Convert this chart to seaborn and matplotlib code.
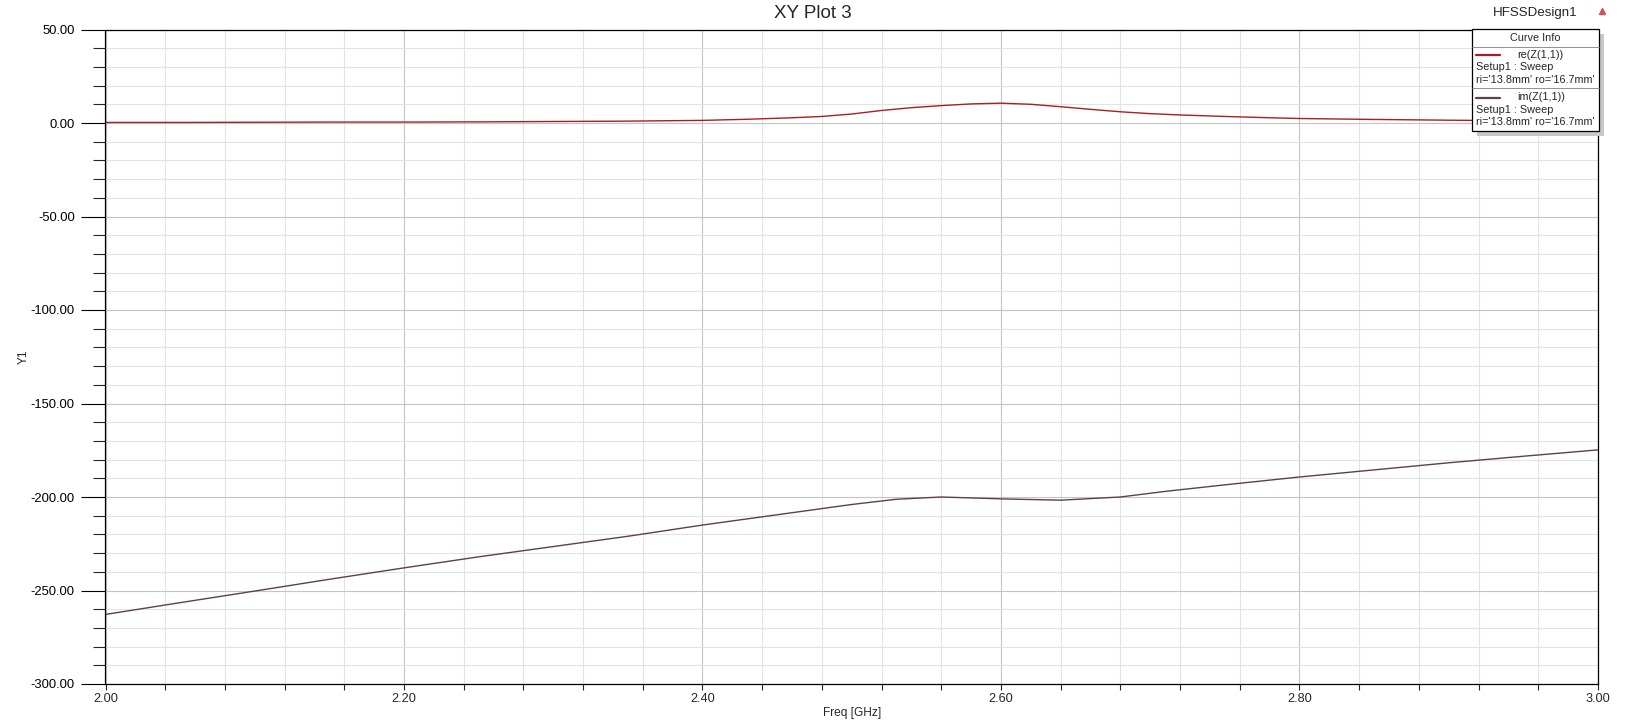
import numpy as np
import pandas as pd
import matplotlib
matplotlib.use("Agg")
import matplotlib.pyplot as plt
import seaborn as sns
from matplotlib.patches import Rectangle
from matplotlib.lines import Line2D

# ---- data ----
freq_re = [2.00, 2.05, 2.10, 2.15, 2.20, 2.25, 2.30, 2.35, 2.40, 2.43, 2.46, 2.48,
           2.50, 2.52, 2.54, 2.56, 2.58, 2.60, 2.62, 2.64, 2.66, 2.68, 2.70, 2.72,
           2.75, 2.78, 2.80, 2.85, 2.90, 2.95, 3.00]
re_z11 = [0.3, 0.3, 0.4, 0.5, 0.5, 0.6, 0.8, 1.0, 1.4, 2.0, 2.8, 3.5,
          4.8, 6.7, 8.2, 9.3, 10.2, 10.6, 10.0, 8.7, 7.3, 6.0, 5.0, 4.3,
          3.5, 2.8, 2.4, 1.9, 1.5, 1.2, 1.0]

freq_im = [2.00, 2.05, 2.10, 2.15, 2.20, 2.25, 2.30, 2.35, 2.40, 2.45, 2.50, 2.53,
           2.56, 2.60, 2.64, 2.68, 2.71, 2.75, 2.80, 2.85, 2.90, 2.95, 3.00]
im_z11 = [-262.8, -256.5, -250.3, -244.0, -237.9, -232.0, -226.5, -221.0, -215.0,
          -209.5, -204.0, -201.2, -200.0, -201.0, -201.7, -200.0, -197.0, -193.5,
          -189.3, -185.5, -181.7, -178.2, -174.8]

x_major = [2.00, 2.20, 2.40, 2.60, 2.80, 3.00]
y_major = [-300, -250, -200, -150, -100, -50, 0, 50]

title = "XY Plot 3"
design = "HFSSDesign1"
x_label = "Freq [GHz]"
y_label = "Y1"
legend_names = ["re(Z(1,1))", "im(Z(1,1))"]
legend_sub1 = "Setup1 : Sweep"
legend_sub2 = "ri='13.8mm' ro='16.7mm'"

RE_COLOR = "#a81e22"
IM_COLOR = "#5e3e52"

sns.set_style("white")
plt.rcParams["font.family"] = ["Liberation Sans", "DejaVu Sans"]

W, H = 1625, 726
fig = plt.figure(figsize=(W / 100, H / 100), dpi=100)
fx = lambda p: p / W
fy = lambda p: 1 - p / H

ax = fig.add_axes([fx(105.5), fy(684), fx(1598) - fx(105.5), fy(29.5) - fy(684)])

df_re = pd.DataFrame({"freq": freq_re, "val": re_z11})
df_im = pd.DataFrame({"freq": freq_im, "val": im_z11})
sns.lineplot(data=df_re, x="freq", y="val", ax=ax, color=RE_COLOR, linewidth=1.0)
sns.lineplot(data=df_im, x="freq", y="val", ax=ax, color=IM_COLOR, linewidth=1.0)

ax.set_xlim(2.0, 3.0)
ax.set_ylim(-300, 50)
ax.set_xticks(x_major)
ax.set_xticklabels([f"{v:.2f}" for v in x_major])
ax.set_xticks(np.arange(2.0, 3.0001, 0.04), minor=True)
ax.set_yticks(y_major)
ax.set_yticklabels([f"{v:.2f}" for v in y_major])
ax.set_yticks(np.arange(-300, 50.1, 10), minor=True)

ax.tick_params(axis="y", which="major", direction="out", length=17.3, width=0.8,
               pad=4.8, labelsize=9.4, left=True, colors="black")
ax.tick_params(axis="y", which="minor", direction="out", length=8.6, width=0.8, left=True)
ax.tick_params(axis="x", which="both", direction="out", length=4.3, width=0.8,
               pad=2.5, labelsize=9.2, bottom=True)

ax.grid(which="major", color="#c4c4c4", linewidth=0.8)
ax.grid(which="minor", color="#e3e3e3", linewidth=0.8)
ax.set_axisbelow(True)
for s in ax.spines.values():
    s.set_color("black")
    s.set_linewidth(0.9)
    s.set_visible(True)

ax.set_xlabel(x_label, fontsize=8.6)
ax.set_ylabel(y_label, fontsize=8.6)
ax.xaxis.set_label_coords(0.5, (684 - 707) / 654.5)
ax.yaxis.set_label_coords((30 - 105.5) / 1492.5, 0.5)

fig.text(0.5, fy(13), title, ha="center", va="center", fontsize=13.5)
fig.text(fx(1578), fy(13), design, ha="right", va="center", fontsize=9.6)
fig.add_artist(Line2D([fx(1602)], [fy(11)], marker="^", color="#d05050",
                      markersize=5, linestyle="none", transform=fig.transFigure))

# ---- curve info box ----
bx0, bx1, by0, by1 = 1472, 1599, 29, 131
fig.add_artist(Rectangle((fx(bx0 + 5), fy(by1 + 5)), fx(bx1 - bx0), fy(by0) - fy(by1),
                         transform=fig.transFigure, facecolor="#c8c8c8",
                         edgecolor="none", zorder=10))
fig.add_artist(Rectangle((fx(bx0), fy(by1)), fx(bx1 - bx0), fy(by0) - fy(by1),
                         transform=fig.transFigure, facecolor="white",
                         edgecolor="black", linewidth=0.9, zorder=11))
for yy in (47, 88):
    fig.add_artist(Line2D([fx(bx0), fx(bx1)], [fy(yy), fy(yy)], color="#808080",
                          linewidth=0.6, transform=fig.transFigure, zorder=12))
fig.text(fx(1535), fy(38), "Curve Info", ha="center", va="center", fontsize=7.8, zorder=12)
fs = 7.8
for name, col, y0 in ((legend_names[0], RE_COLOR, 55), (legend_names[1], IM_COLOR, 97.5)):
    fig.add_artist(Line2D([fx(1476), fx(1500)], [fy(y0), fy(y0)], color=col,
                          linewidth=1.6, transform=fig.transFigure, zorder=12))
    fig.text(fx(1517), fy(y0), name, ha="left", va="center", fontsize=fs, zorder=12)
    fig.text(fx(1476), fy(y0 + 12.3), legend_sub1, ha="left", va="center", fontsize=fs, zorder=12)
    fig.text(fx(1476), fy(y0 + 24.6), legend_sub2, ha="left", va="center", fontsize=fs, zorder=12)

fig.savefig("out.png", dpi=100, facecolor="white")
